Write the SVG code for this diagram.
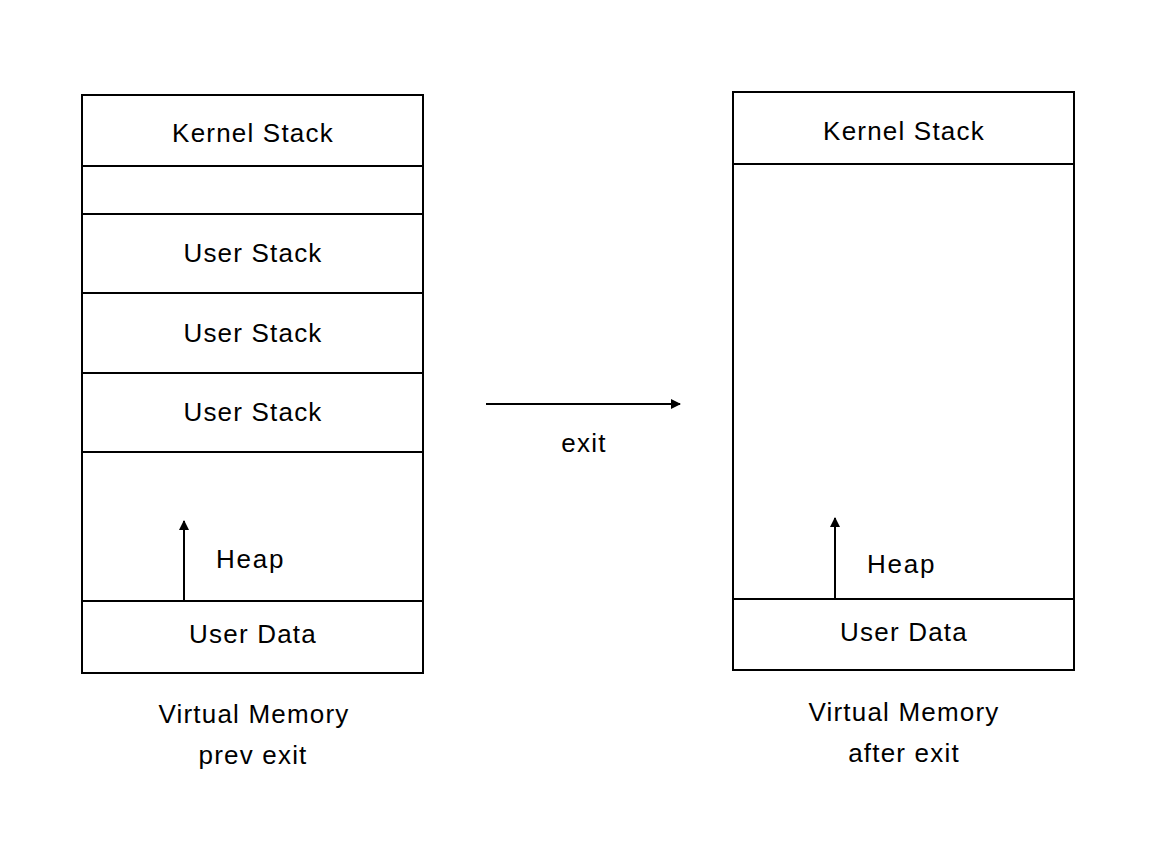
<svg xmlns="http://www.w3.org/2000/svg" width="1156" height="864" viewBox="0 0 1156 864">
<defs>
<style>
.box{fill:#fff;stroke:#000;stroke-width:2}
.sep{stroke:#000;stroke-width:2;fill:none}
.t{font-family:"Liberation Sans",Arial,sans-serif;font-size:26px;letter-spacing:1.2px;fill:#000;text-anchor:middle}
.ts{font-family:"Liberation Sans",Arial,sans-serif;font-size:26px;letter-spacing:1.8px;fill:#000}
.conn{stroke:#000;stroke-width:2;fill:none}
</style>
<marker id="ah" viewBox="0 0 10 10" refX="9" refY="5" markerWidth="5.5" markerHeight="5" orient="auto" markerUnits="strokeWidth">
<path d="M0,0 L10,5 L0,10 z" fill="#000"/>
</marker>
</defs>
<rect width="1156" height="864" fill="#fff"/>
<g id="vm-prev">
<rect class="box" x="82" y="95" width="341" height="578"/>
<line class="sep" x1="82" y1="166" x2="423" y2="166"/>
<line class="sep" x1="82" y1="214" x2="423" y2="214"/>
<line class="sep" x1="82" y1="293" x2="423" y2="293" stroke-width="3"/>
<line class="sep" x1="82" y1="373" x2="423" y2="373"/>
<line class="sep" x1="82" y1="452" x2="423" y2="452"/>
<line class="sep" x1="82" y1="601" x2="423" y2="601"/>
<text class="t" x="253" y="142">Kernel Stack</text>
<text class="t" x="253" y="262">User Stack</text>
<text class="t" x="253" y="342">User Stack</text>
<text class="t" x="253" y="421">User Stack</text>
<text class="ts" x="216" y="568">Heap</text>
<text class="t" x="253" y="643">User Data</text>
<text class="t" x="254" y="723">Virtual Memory</text>
<text class="t" x="253" y="764">prev exit</text>
</g>
<g id="vm-after">
<rect class="box" x="733" y="92" width="341" height="578"/>
<line class="sep" x1="733" y1="164" x2="1074" y2="164"/>
<line class="sep" x1="733" y1="599" x2="1074" y2="599"/>
<text class="t" x="904" y="140">Kernel Stack</text>
<text class="ts" x="867" y="573">Heap</text>
<text class="t" x="904" y="641">User Data</text>
<text class="t" x="904" y="721">Virtual Memory</text>
<text class="t" x="904" y="762">after exit</text>
</g>
<g id="connectors">
<line class="conn" x1="184" y1="601" x2="184" y2="521" marker-end="url(#ah)"/>
<line class="conn" x1="835" y1="599" x2="835" y2="518" marker-end="url(#ah)"/>
<line class="conn" x1="486" y1="404" x2="680" y2="404" marker-end="url(#ah)"/>
<text class="t" x="584" y="452">exit</text>
</g>
</svg>
